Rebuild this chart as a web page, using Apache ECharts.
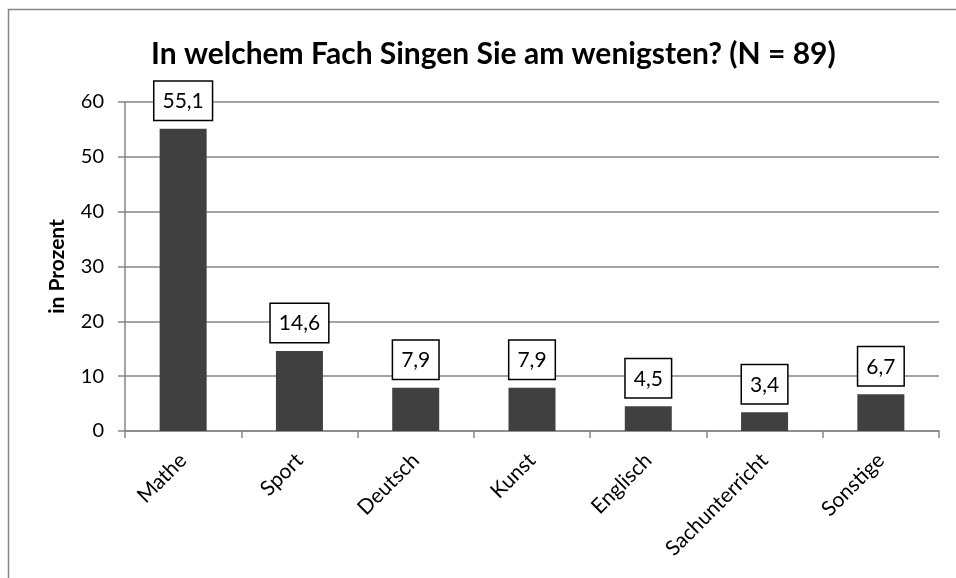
<!DOCTYPE html>
<html>
<head>
<meta charset="utf-8">
<script src="https://cdn.jsdelivr.net/npm/echarts@6/dist/echarts.min.js"></script>
<style>
html,body{margin:0;padding:0;background:#fff;}
#chart{width:956px;height:578px;}
</style>
</head>
<body>
<div id="chart"></div>
<script>
var categories = ['Mathe', 'Sport', 'Deutsch', 'Kunst', 'Englisch', 'Sachunterricht', 'Sonstige'];
var values = [55.1, 14.6, 7.9, 7.9, 4.5, 3.4, 6.7];
var yTicks = [0, 10, 20, 30, 40, 50, 60];

var font = 'Lato';
var myChart = echarts.init(document.getElementById('chart'));

var option = {
    animation: false,
    title: {
        text: 'In welchem Fach Singen Sie am wenigsten? (N = 89)',
        left: 146,
        top: 34,
        textStyle: {
            fontFamily: font,
            fontSize: 30,
            fontWeight: 'bold',
            color: '#000'
        }
    },
    graphic: [{
        type: 'rect',
        shape: { x: 8.5, y: 9.5, width: 960, height: 600 },
        style: { fill: 'none', stroke: '#868686', lineWidth: 1.5 },
        silent: true
    }],
    grid: {
        left: 125,
        right: 17,
        top: 102,
        bottom: 147
    },
    xAxis: {
        type: 'category',
        data: categories,
        axisLine: { lineStyle: { color: '#868686', width: 1.5 } },
        axisTick: { show: true, length: 7, lineStyle: { color: '#868686', width: 1.5 } },
        axisLabel: {
            rotate: 45,
            margin: 26,
            fontFamily: font,
            fontSize: 21,
            color: '#000'
        }
    },
    yAxis: {
        type: 'value',
        min: yTicks[0],
        max: yTicks[yTicks.length - 1],
        interval: 10,
        name: 'in Prozent',
        nameLocation: 'middle',
        nameGap: 57,
        nameTextStyle: {
            fontFamily: font,
            fontSize: 21,
            fontWeight: 'bold',
            color: '#000'
        },
        axisLine: { show: true, lineStyle: { color: '#868686', width: 1.5 } },
        axisTick: { show: true, length: 7, lineStyle: { color: '#868686', width: 1.5 } },
        axisLabel: {
            margin: 21,
            fontFamily: font,
            fontSize: 20,
            color: '#000'
        },
        splitLine: { lineStyle: { color: '#868686', width: 1.5 } }
    },
    series: [{
        type: 'bar',
        data: values,
        barWidth: 47,
        itemStyle: { color: '#404040' },
        label: {
            show: true,
            position: 'top',
            distance: 9,
            formatter: function (p) { return String(p.value).replace('.', ','); },
            fontFamily: font,
            fontSize: 21,
            lineHeight: 25,
            color: '#000',
            backgroundColor: '#fff',
            borderColor: '#000',
            borderWidth: 1.5,
            padding: [7, 8, 6, 8]
        }
    }]
};

myChart.setOption(option);
</script>
</body>
</html>
